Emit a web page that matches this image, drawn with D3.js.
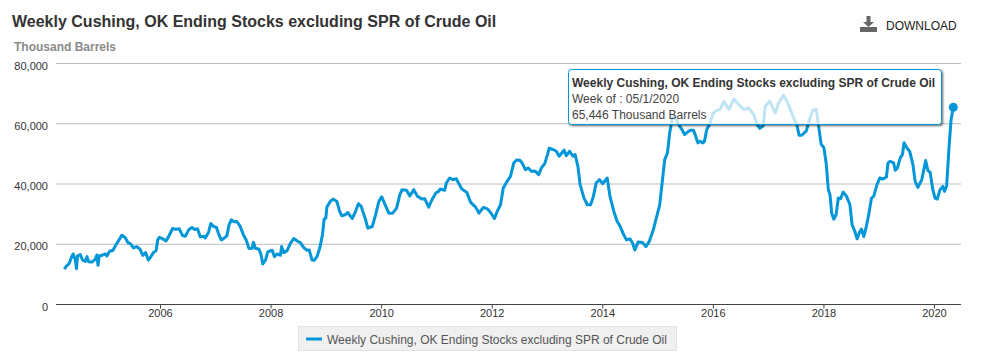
<!DOCTYPE html>
<html><head><meta charset="utf-8">
<script src="https://cdn.jsdelivr.net/npm/d3@7"></script>
<style>html,body{margin:0;padding:0;background:#fff}svg{display:block}text{font-family:"Liberation Sans",Arial,sans-serif}</style>
</head><body><div id="chart"></div>
<script>
const chartTitle="Weekly Cushing, OK Ending Stocks excluding SPR of Crude Oil";
const unitLabel="Thousand Barrels";
const tooltipLines=["Week of : 05/1/2020","65,446 Thousand Barrels"];
const yTicks=[0,20000,40000,60000,80000];
const xTicks=[2006,2008,2010,2012,2014,2016,2018,2020];
const years=[2004.26,2004.30,2004.35,2004.39,2004.42,2004.46,2004.48,2004.50,2004.55,2004.59,2004.64,2004.67,2004.70,2004.76,2004.82,2004.85,2004.87,2004.89,2004.94,2005.00,2005.03,2005.08,2005.14,2005.19,2005.25,2005.30,2005.36,2005.41,2005.46,2005.51,2005.57,2005.63,2005.68,2005.73,2005.78,2005.82,2005.87,2005.92,2005.95,2005.98,
2006.04,2006.10,2006.14,2006.22,2006.28,2006.34,2006.40,2006.45,2006.51,2006.57,2006.62,2006.67,2006.72,2006.78,2006.81,2006.87,2006.91,2006.96,2007.01,2007.06,2007.10,2007.15,2007.20,2007.24,2007.28,2007.33,2007.38,2007.44,2007.50,2007.55,2007.60,2007.66,2007.68,2007.72,2007.78,2007.82,2007.85,2007.90,2007.94,
2008.02,2008.06,2008.11,2008.17,2008.19,2008.23,2008.29,2008.35,2008.41,2008.48,2008.53,2008.59,2008.65,2008.69,2008.74,2008.78,2008.83,2008.88,2008.93,2008.96,2008.99,2009.01,2009.07,2009.12,2009.19,2009.24,2009.28,2009.34,2009.39,2009.43,2009.47,2009.52,2009.58,2009.63,2009.67,2009.71,2009.75,2009.83,2009.89,2009.95,
2010.00,2010.05,2010.13,2010.20,2010.27,2010.33,2010.37,2010.45,2010.51,2010.58,2010.65,2010.73,2010.78,2010.85,2010.91,2010.98,2011.03,2011.06,2011.14,2011.17,2011.23,2011.29,2011.35,2011.39,2011.45,2011.54,2011.61,2011.70,2011.76,2011.84,2011.91,2011.97,
2012.04,2012.09,2012.15,2012.20,2012.27,2012.33,2012.39,2012.44,2012.50,2012.54,2012.60,2012.65,2012.71,2012.78,2012.84,2012.89,2012.95,2013.00,2013.03,2013.10,2013.16,2013.21,2013.30,2013.34,2013.40,2013.46,2013.50,2013.55,2013.59,2013.66,2013.72,2013.78,2013.83,2013.88,2013.94,
2014.00,2014.08,2014.13,2014.20,2014.26,2014.31,2014.38,2014.43,2014.49,2014.54,2014.58,2014.64,2014.72,2014.78,2014.84,2014.91,2014.96,2015.03,2015.08,2015.12,2015.17,2015.21,2015.26,2015.31,2015.37,2015.43,2015.48,2015.54,2015.59,2015.64,2015.67,2015.72,2015.76,2015.81,2015.84,2015.88,2015.94,
2016.00,2016.07,2016.12,2016.19,2016.28,2016.37,2016.46,2016.55,2016.64,2016.73,2016.79,2016.84,2016.90,2016.94,2017.02,2017.12,2017.18,2017.27,2017.36,2017.45,2017.51,2017.55,2017.60,2017.68,2017.75,2017.80,2017.86,2017.90,2017.95,
2018.00,2018.04,2018.08,2018.11,2018.14,2018.18,2018.22,2018.26,2018.30,2018.35,2018.41,2018.47,2018.51,2018.56,2018.60,2018.65,2018.68,2018.72,2018.76,2018.81,2018.86,2018.90,2018.96,2019.01,2019.07,2019.13,2019.16,2019.20,2019.26,2019.29,2019.33,2019.38,2019.42,2019.45,2019.50,2019.55,2019.61,2019.65,2019.70,2019.77,2019.84,2019.88,2019.92,2019.97,
2020.01,2020.05,2020.10,2020.15,2020.18,2020.22,2020.26,2020.30,2020.34];
const stocks=[11780,12780,13670,15670,16780,14780,11890,16110,16560,14780,14330,15890,14220,14110,15000,16440,13000,16110,16330,16780,16110,17670,18000,19670,21440,23000,22220,20560,20110,18780,19220,18330,16330,17220,14780,15670,17220,17890,21440,22330,
21780,21110,22330,25220,25000,25110,22890,22670,24780,25550,24890,25110,22440,22670,22110,24000,26890,25890,25670,23000,21440,22000,22780,26440,28110,27440,27550,26000,23110,21440,18560,18670,20670,18560,18440,16440,13440,14780,17440,
18000,15890,16780,16330,19220,17220,17890,20330,21890,21000,20560,18890,18000,18110,14780,14670,15890,18670,23110,28330,28670,32330,34220,35000,34200,30900,29440,29780,30550,29440,28550,30550,33440,32550,30330,28110,25330,25890,29780,34220,
35780,33660,30330,30330,32000,36440,38110,37890,36000,38110,35890,35000,35110,32330,34770,37000,37550,38330,37890,40330,42000,41440,41770,40330,38330,37220,33890,32330,30330,32220,31770,30550,
28550,30880,33110,38660,40880,42550,47000,48000,47880,47000,44770,45330,44220,44220,43110,45330,46770,49770,51880,51440,50880,49220,51220,49440,50880,49220,49770,45880,39770,35330,33110,33110,35890,40330,41440,
40110,42000,35890,30880,27550,26110,23110,21440,21780,20330,18110,20780,20550,19220,20890,24550,28110,33110,41440,48100,50330,57000,62000,62200,59770,58110,56440,57330,57880,57880,56440,53660,54220,53660,54220,58110,60110,
63600,64480,64700,67430,64700,68200,66340,64700,65250,63060,59780,58470,59230,65800,67430,63600,66900,69500,66340,61970,59780,56170,56170,57600,61970,64480,64700,59780,53220,
52000,47000,38110,36440,30330,28330,29780,35330,35100,37330,35890,33110,26440,24220,21780,24220,25000,22550,25330,29780,35330,35890,39770,42000,41660,42330,47000,47550,47000,44550,45330,48660,49770,53660,52000,50880,46440,40880,38880,41440,47770,44550,43880,38110,
35330,35000,38110,39220,37550,39440,51440,61440,65446];

const W=988,H=363,blue="#0096d7";
const x=d3.scaleLinear().domain([2006,2020]).range([160.5,934.5]);
const y=d3.scaleLinear().domain([0,80000]).range([304.5,63.5]);
const svg=d3.select("#chart").append("svg").attr("width",W).attr("height",H);
const L=56,R=961;

svg.append("text").attr("x",12).attr("y",27).attr("font-size",16).attr("font-weight","bold").attr("fill","#333").text(chartTitle);
svg.append("text").attr("x",14).attr("y",51).attr("font-size",12).attr("font-weight","bold").attr("fill","#8a8a8a").text(unitLabel);

// download icon
const ic=svg.append("g").attr("fill","#666");
ic.append("rect").attr("x",860).attr("y",27).attr("width",17).attr("height",5);
ic.append("path").attr("d","M866.5 16h4v6h3.5l-5.5 5-5.5-5h3.5z");
svg.append("text").attr("x",886).attr("y",30).attr("font-size",12).attr("fill","#222").text("DOWNLOAD");

// grid and axes
svg.append("g").selectAll("line").data(yTicks.filter(d=>d>0)).join("line")
 .attr("x1",L).attr("x2",R).attr("y1",d=>y(d)).attr("y2",d=>y(d)).attr("stroke","#bdbdbd").attr("stroke-width",1);
svg.append("line").attr("x1",L).attr("x2",R).attr("y1",y(0)).attr("y2",y(0)).attr("stroke","#444").attr("stroke-width",1);
svg.append("g").selectAll("line").data(xTicks).join("line")
 .attr("x1",d=>x(d)).attr("x2",d=>x(d)).attr("y1",y(0)).attr("y2",y(0)+4).attr("stroke","#444");
svg.append("g").selectAll("text").data(yTicks).join("text")
 .attr("x",48).attr("y",d=>y(d)+6).attr("text-anchor","end").attr("font-size",11).attr("fill","#333").text(d3.format(","));
svg.append("g").selectAll("text").data(xTicks).join("text")
 .attr("x",d=>x(d)).attr("y",317).attr("text-anchor","middle").attr("font-size",11).attr("fill","#333").text(d=>d);

// series
const line=d3.line().x(d=>x(d[0])).y(d=>y(d[1]));
const pts=years.map((t,i)=>[t,stocks[i]]);
svg.append("path").attr("d",line(pts)).attr("fill","none").attr("stroke",blue).attr("stroke-width",3).attr("stroke-linejoin","round");
const last=pts[pts.length-1];
svg.append("circle").attr("cx",x(last[0])).attr("cy",y(last[1])).attr("r",4.5).attr("fill",blue);

// legend
svg.append("rect").attr("x",298.5).attr("y",326.5).attr("width",378).attr("height",24).attr("fill","#f0f0f0").attr("stroke","#e2e2e2");
svg.append("line").attr("x1",306).attr("x2",322).attr("y1",339).attr("y2",339).attr("stroke",blue).attr("stroke-width",3);
svg.append("text").attr("x",327).attr("y",344).attr("font-size",12).attr("fill","#555").text(chartTitle);

// tooltip: the shadow is masked so it only falls outside the translucent box
const defs=svg.append("defs");
const f=defs.append("filter").attr("id","sh").attr("x","-5%").attr("y","-20%").attr("width","110%").attr("height","140%");
f.append("feGaussianBlur").attr("stdDeviation",1.2);
const m=defs.append("mask").attr("id","outside").attr("maskUnits","userSpaceOnUse").attr("x",0).attr("y",0).attr("width",W).attr("height",H);
m.append("rect").attr("width",W).attr("height",H).attr("fill","#fff");
m.append("rect").attr("x",568.5).attr("y",69.5).attr("width",373).attr("height",55).attr("rx",3).attr("fill","#000");
svg.append("g").attr("mask","url(#outside)").append("rect").attr("x",569.5).attr("y",70.5).attr("width",373.5).attr("height",55.5).attr("rx",3)
 .attr("fill","#000").attr("fill-opacity",0.6).attr("filter","url(#sh)");
svg.append("rect").attr("x",568.5).attr("y",69.5).attr("width",373).attr("height",55).attr("rx",3)
 .attr("fill","#fff").attr("fill-opacity",0.75).attr("stroke",blue);
svg.append("text").attr("x",572).attr("y",87).attr("font-size",12).attr("font-weight","bold").attr("fill","#333").text(chartTitle);
svg.append("g").selectAll("text").data(tooltipLines).join("text")
 .attr("x",572).attr("y",(d,i)=>103+i*16).attr("font-size",12).attr("fill","#444").text(d=>d);
</script></body></html>
